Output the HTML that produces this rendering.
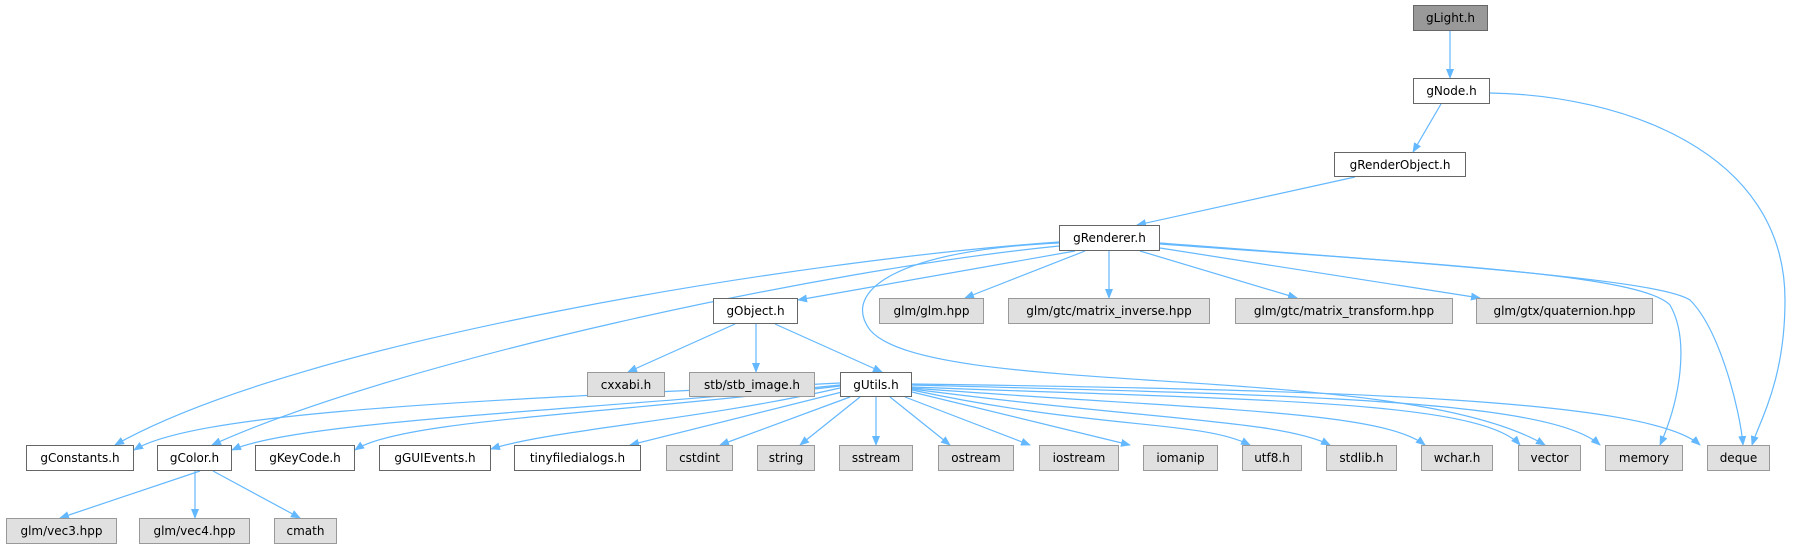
<!DOCTYPE html>
<html><head><meta charset="utf-8"><style>
html,body{margin:0;padding:0;background:#fff;}
body{width:1793px;height:549px;position:relative;overflow:hidden;font-family:"DejaVu Sans","Liberation Sans",sans-serif;}
.n{position:absolute;box-sizing:border-box;border:1px solid #666;background:#fff;font-size:12px;color:#000;display:flex;align-items:center;justify-content:center;white-space:nowrap;}
.g{background:#e0e0e0;border-color:#999;}
.d{background:#999;border-color:#666;}
svg{position:absolute;left:0;top:0;}
</style></head><body>
<svg width="1793" height="549" viewBox="0 0 1793 549">
<defs><marker id="a" markerWidth="10" markerHeight="8" refX="9" refY="4" orient="auto" markerUnits="userSpaceOnUse"><path d="M0,0 L10,4 L0,8 z" fill="#63b8ff"/></marker></defs>
<g fill="none" stroke="#63b8ff" stroke-width="1.2" marker-end="url(#a)">
<path d="M1450,31 L1450,78"/>
<path d="M1441,104 L1413,152"/>
<path d="M1490,93 C1620,95 1785,150 1785,300 C1785,380 1760,420 1752,445"/>
<path d="M1355,177 L1137,225"/>
<path d="M1075,251 L798,300"/>
<path d="M1085,251 L965,298"/>
<path d="M1109,251 L1109,298"/>
<path d="M1140,251 L1297,298"/>
<path d="M1160,248 L1480,298"/>
<path d="M1059,242 C800,260 300,340 115,445"/>
<path d="M1059,246 C820,270 400,360 212,445"/>
<path d="M1059,243 C900,250 840,290 870,330 C930,400 1400,360 1545,445"/>
<path d="M1160,244 C1450,265 1640,275 1670,305 C1690,340 1680,400 1660,445"/>
<path d="M1160,243 C1450,265 1660,280 1690,300 C1720,330 1740,410 1743,445"/>
<path d="M735,324 L628,372"/>
<path d="M756,324 L756,372"/>
<path d="M775,324 L882,372"/>
<path d="M840,383 C500,400 200,410 134,450"/>
<path d="M840,385 C600,410 300,420 232,450"/>
<path d="M840,386 C600,415 400,420 355,450"/>
<path d="M840,388 C700,420 550,430 491,449"/>
<path d="M842,392 L630,445"/>
<path d="M850,397 L720,445"/>
<path d="M860,397 L800,445"/>
<path d="M876,397 L876,445"/>
<path d="M890,397 L950,445"/>
<path d="M905,397 L1030,445"/>
<path d="M912,392 L1130,445"/>
<path d="M912,390 C1100,430 1200,420 1250,445"/>
<path d="M912,389 C1150,420 1280,420 1330,445"/>
<path d="M912,388 C1200,410 1380,410 1425,445"/>
<path d="M912,387 C1250,400 1480,400 1520,445"/>
<path d="M912,385 C1300,395 1550,400 1600,445"/>
<path d="M912,384 C1350,390 1650,400 1700,445"/>
<path d="M200,471 L60,518"/>
<path d="M195,471 L195,518"/>
<path d="M213,471 L300,518"/>
</g></svg>
<div class="n d" style="left:1413px;top:5px;width:75px;height:26px">gLight.h</div>
<div class="n" style="left:1413px;top:78px;width:77px;height:26px">gNode.h</div>
<div class="n" style="left:1334px;top:152px;width:132px;height:25px">gRenderObject.h</div>
<div class="n" style="left:1059px;top:225px;width:101px;height:26px">gRenderer.h</div>
<div class="n" style="left:713px;top:298px;width:85px;height:26px">gObject.h</div>
<div class="n g" style="left:879px;top:298px;width:105px;height:26px">glm/glm.hpp</div>
<div class="n g" style="left:1008px;top:298px;width:202px;height:26px">glm/gtc/matrix_inverse.hpp</div>
<div class="n g" style="left:1235px;top:298px;width:218px;height:26px">glm/gtc/matrix_transform.hpp</div>
<div class="n g" style="left:1476px;top:298px;width:177px;height:26px">glm/gtx/quaternion.hpp</div>
<div class="n g" style="left:587px;top:372px;width:78px;height:25px">cxxabi.h</div>
<div class="n g" style="left:689px;top:372px;width:126px;height:25px">stb/stb_image.h</div>
<div class="n" style="left:840px;top:372px;width:72px;height:25px">gUtils.h</div>
<div class="n" style="left:26px;top:445px;width:108px;height:26px">gConstants.h</div>
<div class="n" style="left:157px;top:445px;width:75px;height:26px">gColor.h</div>
<div class="n" style="left:255px;top:445px;width:100px;height:26px">gKeyCode.h</div>
<div class="n" style="left:379px;top:445px;width:112px;height:26px">gGUIEvents.h</div>
<div class="n" style="left:514px;top:445px;width:127px;height:26px">tinyfiledialogs.h</div>
<div class="n g" style="left:666px;top:445px;width:67px;height:26px">cstdint</div>
<div class="n g" style="left:757px;top:445px;width:58px;height:26px">string</div>
<div class="n g" style="left:839px;top:445px;width:74px;height:26px">sstream</div>
<div class="n g" style="left:938px;top:445px;width:76px;height:26px">ostream</div>
<div class="n g" style="left:1039px;top:445px;width:80px;height:26px">iostream</div>
<div class="n g" style="left:1143px;top:445px;width:75px;height:26px">iomanip</div>
<div class="n g" style="left:1242px;top:445px;width:60px;height:26px">utf8.h</div>
<div class="n g" style="left:1326px;top:445px;width:71px;height:26px">stdlib.h</div>
<div class="n g" style="left:1421px;top:445px;width:72px;height:26px">wchar.h</div>
<div class="n g" style="left:1518px;top:445px;width:63px;height:26px">vector</div>
<div class="n g" style="left:1605px;top:445px;width:78px;height:26px">memory</div>
<div class="n g" style="left:1707px;top:445px;width:63px;height:26px">deque</div>
<div class="n g" style="left:6px;top:518px;width:111px;height:26px">glm/vec3.hpp</div>
<div class="n g" style="left:139px;top:518px;width:111px;height:26px">glm/vec4.hpp</div>
<div class="n g" style="left:274px;top:518px;width:63px;height:26px">cmath</div>
</body></html>
